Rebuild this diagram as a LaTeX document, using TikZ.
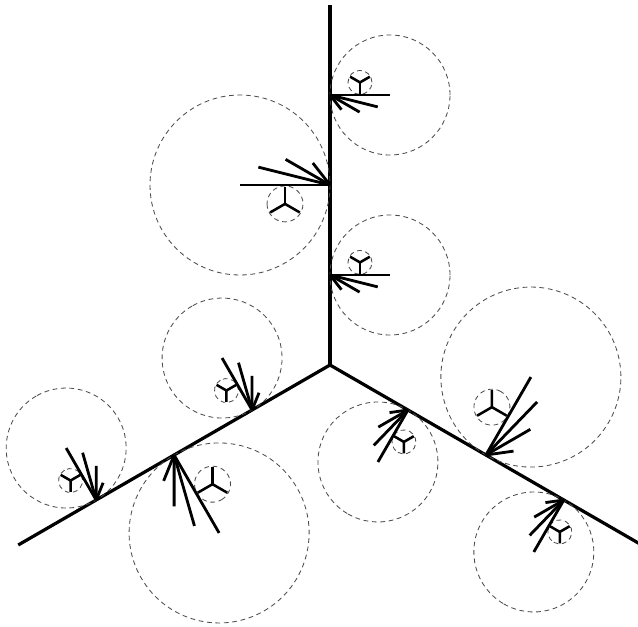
\documentclass[tikz,border=0pt]{standalone}
\usepackage{tikz}
\usetikzlibrary{calc}

% a disc touching the branch: #1 distance along it, #2 side, #3 radius
\newcommand{\touch}[3]{%
  \begin{scope}[shift={(0,#1)}, rotate=#2, scale=#3]
    \coordinate (tip) at (0,0);
    \coordinate (hub) at (0.5,0.21);
    \draw[halo] (1,0) circle (1);
    \draw[halo] (hub) circle (0.2);
    \foreach \s in {-90,30,150}
      \draw[spoke] (hub) -- ++(\s:0.19);
    \foreach \l/\w in {1/0, 0.82/-14, 0.57/-30, 0.31/-52}
      \draw[ray] (tip) -- (\w:\l);
  \end{scope}}

\begin{document}
\begin{tikzpicture}[x=0.025cm, y=0.025cm,
branch/.style={line width=2.3pt},
ray/.style={line width=2pt},
spoke/.style={line width=1.8pt},
halo/.style={draw=black!70, line width=0.6pt, dash pattern=on 3.4pt off 2.6pt}
]
\clip (-330,-261) rectangle (308,365);
\coordinate (O) at (0,0);
\foreach \r in {0,120,240} {
  \begin{scope}[rotate=\r]
    \coordinate (end) at (0,360);
    \draw[branch] (O) -- (end);
    \touch{270}{0}{60}
    \touch{180}{180}{90}
    \touch{90}{0}{60}
  \end{scope}
}
\end{tikzpicture}
\end{document}
